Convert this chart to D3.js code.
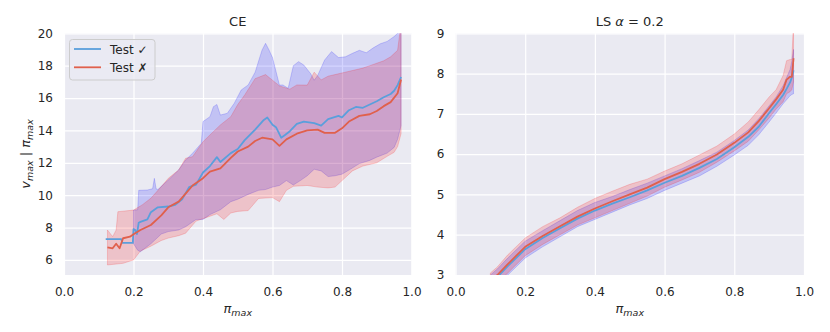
<!DOCTYPE html>
<html>
<head>
<meta charset="utf-8">
<script src="https://cdn.jsdelivr.net/npm/d3@7"></script>
<style>
  body { margin: 0; background: #fff; }
  text { font-family: "DejaVu Sans", sans-serif; fill: #262626; }
</style>
</head>
<body>
<div class="chart"></div>
<script>
// DATA ------------------------------------
// CE panel, Test ✓ (blue)
const ceOkMeanX = [0.12, 0.165, 0.168, 0.198, 0.2, 0.205, 0.21, 0.215, 0.22, 0.24, 0.25, 0.27, 0.3, 0.32, 0.34, 0.36, 0.38, 0.4, 0.42, 0.44, 0.45, 0.48, 0.5, 0.52, 0.55, 0.575, 0.585, 0.6, 0.61, 0.625, 0.635, 0.65, 0.67, 0.69, 0.72, 0.74, 0.76, 0.79, 0.8, 0.82, 0.84, 0.86, 0.88, 0.9, 0.92, 0.94, 0.95, 0.96, 0.97];
const ceOkMean  = [7.28, 7.28, 7.05, 7.05, 7.9, 7.85, 7.6, 8.3, 8.35, 8.5, 8.95, 9.25, 9.3, 9.4, 9.75, 10.5, 10.65, 11.4, 11.8, 12.35, 12.05, 12.6, 12.85, 13.4, 14.05, 14.65, 14.8, 14.35, 14.2, 13.55, 13.7, 13.95, 14.4, 14.55, 14.45, 14.3, 14.7, 14.9, 14.8, 15.25, 15.45, 15.4, 15.6, 15.8, 16.05, 16.25, 16.45, 16.8, 17.3];
const ceOkHighX = [0.2, 0.212, 0.215, 0.24, 0.255, 0.26, 0.265, 0.27, 0.3, 0.33, 0.35, 0.37, 0.395, 0.4, 0.42, 0.43, 0.44, 0.45, 0.47, 0.49, 0.51, 0.53, 0.55, 0.57, 0.58, 0.59, 0.6, 0.62, 0.63, 0.645, 0.66, 0.675, 0.69, 0.71, 0.72, 0.73, 0.75, 0.77, 0.79, 0.81, 0.83, 0.85, 0.87, 0.89, 0.91, 0.93, 0.95, 0.96, 0.97];
const ceOkHigh  = [9.08, 9.1, 10.3, 10.32, 10.4, 11.04, 10.4, 10.35, 10.94, 11.56, 12.18, 12.59, 13.2, 14.55, 14.85, 15.47, 15.6, 14.95, 15.06, 15.68, 16.5, 16.81, 17.6, 18.97, 19.38, 18.97, 18.5, 16.8, 16.81, 16.6, 18.0, 18.25, 18.04, 17.5, 17.1, 17.4, 18.35, 18.87, 18.5, 18.55, 18.76, 18.95, 18.8, 19.1, 19.35, 19.5, 19.8, 20.0, 20.6];
const ceOkLowX  = [0.2, 0.212, 0.22, 0.25, 0.28, 0.3, 0.33, 0.35, 0.38, 0.4, 0.42, 0.45, 0.48, 0.5, 0.53, 0.56, 0.58, 0.6, 0.62, 0.64, 0.66, 0.68, 0.7, 0.72, 0.74, 0.76, 0.78, 0.8, 0.82, 0.85, 0.88, 0.9, 0.93, 0.95, 0.96, 0.97];
const ceOkLow   = [7.0, 6.6, 6.51, 7.0, 7.6, 7.75, 7.85, 8.05, 8.5, 8.5, 8.8, 9.1, 9.6, 9.75, 10.05, 10.3, 10.35, 10.5, 10.6, 10.9, 10.63, 10.9, 11.2, 11.6, 11.5, 11.15, 11.2, 11.3, 11.55, 11.95, 12.15, 12.35, 12.6, 12.95, 13.45, 14.3];

// CE panel, Test ✗ (red)
const ceBadMeanX = [0.125, 0.14, 0.15, 0.16, 0.17, 0.19, 0.2, 0.22, 0.25, 0.28, 0.3, 0.33, 0.35, 0.37, 0.4, 0.42, 0.45, 0.48, 0.5, 0.53, 0.55, 0.57, 0.6, 0.62, 0.64, 0.67, 0.7, 0.73, 0.75, 0.78, 0.8, 0.82, 0.85, 0.88, 0.9, 0.92, 0.94, 0.96, 0.97];
const ceBadMean  = [6.78, 6.72, 7.0, 6.72, 7.34, 7.44, 7.58, 7.85, 8.16, 8.75, 9.25, 9.6, 10.1, 10.6, 11.05, 11.45, 11.65, 12.3, 12.7, 13.0, 13.35, 13.55, 13.45, 13.05, 13.45, 13.8, 14.0, 14.05, 13.85, 13.85, 14.13, 14.55, 14.9, 15.0, 15.2, 15.5, 15.75, 16.3, 17.15];
const ceBadHighX = [0.125, 0.14, 0.15, 0.155, 0.2, 0.225, 0.25, 0.28, 0.3, 0.33, 0.35, 0.37, 0.4, 0.42, 0.45, 0.48, 0.5, 0.52, 0.55, 0.58, 0.6, 0.62, 0.65, 0.67, 0.7, 0.72, 0.74, 0.76, 0.78, 0.8, 0.83, 0.86, 0.88, 0.9, 0.92, 0.94, 0.96, 0.97];
const ceBadHigh  = [7.85, 7.44, 7.85, 8.98, 9.08, 9.4, 9.81, 10.53, 11.04, 11.56, 12.28, 12.38, 13.3, 13.72, 14.34, 14.85, 15.6, 16.19, 17.2, 17.45, 17.1, 16.75, 16.55, 16.81, 16.8, 17.6, 17.12, 17.35, 17.45, 17.55, 17.7, 17.85, 18.0, 18.15, 18.3, 18.55, 18.95, 20.6];
const ceBadLowX  = [0.125, 0.17, 0.2, 0.22, 0.25, 0.28, 0.3, 0.33, 0.35, 0.38, 0.4, 0.44, 0.46, 0.48, 0.5, 0.53, 0.56, 0.6, 0.62, 0.64, 0.66, 0.7, 0.73, 0.76, 0.78, 0.8, 0.83, 0.86, 0.9, 0.93, 0.95, 0.96, 0.97];
const ceBadLow   = [5.69, 5.79, 6.0, 6.55, 6.85, 7.2, 7.35, 7.5, 7.65, 8.4, 8.55, 8.85, 8.5, 8.9, 9.0, 9.05, 9.8, 9.85, 9.6, 10.3, 10.55, 10.6, 10.5, 10.45, 10.5, 10.9, 11.5, 11.8, 12.0, 12.4, 12.65, 13.0, 13.8];

// LS alpha = 0.2 panel (shared x grid)
const lsX       = [0.10, 0.12, 0.15, 0.2, 0.25, 0.3, 0.35, 0.4, 0.45, 0.5, 0.55, 0.6, 0.65, 0.7, 0.75, 0.8, 0.84, 0.87, 0.9, 0.92, 0.94, 0.95, 0.96, 0.965, 0.97];
const lsOkMean  = [2.8, 2.95, 3.22, 3.64, 3.92, 4.16, 4.4, 4.6, 4.77, 4.93, 5.1, 5.29, 5.46, 5.66, 5.88, 6.17, 6.43, 6.68, 7.02, 7.24, 7.47, 7.62, 7.78, 7.9, 8.08];
const lsOkHigh  = [3.0, 3.15, 3.42, 3.84, 4.1, 4.35, 4.6, 4.8, 4.95, 5.12, 5.28, 5.46, 5.64, 5.84, 6.05, 6.34, 6.6, 6.88, 7.2, 7.42, 7.7, 7.9, 8.1, 8.3, 8.6];
const lsOkLow   = [2.6, 2.75, 3.0, 3.42, 3.7, 3.95, 4.2, 4.38, 4.56, 4.74, 4.9, 5.1, 5.28, 5.46, 5.7, 5.98, 6.22, 6.48, 6.8, 7.02, 7.25, 7.35, 7.45, 7.48, 7.5];
const lsBadMean = [2.85, 3.0, 3.27, 3.70, 3.97, 4.21, 4.45, 4.65, 4.83, 5.0, 5.17, 5.38, 5.56, 5.76, 5.99, 6.28, 6.54, 6.82, 7.14, 7.36, 7.6, 7.85, 7.92, 7.92, 8.38];
const lsBadHigh = [3.05, 3.2, 3.5, 3.92, 4.2, 4.42, 4.68, 4.9, 5.08, 5.25, 5.38, 5.58, 5.76, 5.98, 6.2, 6.5, 6.8, 7.1, 7.42, 7.6, 7.95, 8.32, 8.35, 8.35, 9.3];
const lsBadLow  = [2.65, 2.8, 3.05, 3.48, 3.76, 4.0, 4.24, 4.42, 4.6, 4.78, 4.96, 5.18, 5.36, 5.55, 5.8, 6.08, 6.32, 6.6, 6.9, 7.12, 7.3, 7.5, 7.55, 7.6, 7.8];

// tick labels
const xTicks = [0, 0.2, 0.4, 0.6, 0.8, 1.0];
const ceYTicks = [6, 8, 10, 12, 14, 16, 18, 20];
const lsYTicks = [3, 4, 5, 6, 7, 8, 9];
const legendLabels = ["Test \u2713", "Test \u2717"];

// COLOURS ---------------------------------
const okLine = "#5a9fdc", badLine = "#e0604c";
const okFill = "rgb(0,0,255)", badFill = "rgb(255,0,0)";

const zip = (xs, ys) => xs.map((x, i) => [x, ys[i]]);

// CHART INIT ------------------------------
const svg = d3.select(".chart")
  .append("svg")
  .attr("width", 830)
  .attr("height", 332);

function drawPanel(opt) {
  const x = d3.scaleLinear().domain([0, 1]).range([opt.left, opt.right]);
  const y = d3.scaleLinear().domain(opt.yDomain).range([opt.bottom, opt.top]);
  const g = svg.append("g");

  g.append("rect")
    .attr("x", opt.left).attr("y", opt.top)
    .attr("width", opt.right - opt.left).attr("height", opt.bottom - opt.top)
    .attr("fill", "#eaeaf2");

  // grid + tick labels
  const xAxis = g.append("g")
    .attr("transform", `translate(0,${opt.bottom})`)
    .call(d3.axisBottom(x).tickValues(xTicks).tickFormat(d3.format(".1f"))
      .tickSize(-(opt.bottom - opt.top)).tickPadding(12));
  const yAxis = g.append("g")
    .attr("transform", `translate(${opt.left},0)`)
    .call(d3.axisLeft(y).tickValues(opt.yTicks).tickFormat(d3.format("d"))
      .tickSize(-(opt.right - opt.left)).tickPadding(11));
  [xAxis, yAxis].forEach(a => {
    a.select(".domain").remove();
    a.selectAll("line").attr("stroke", "#fff").attr("stroke-width", 1.2);
    a.selectAll("text").attr("font-size", 12).attr("fill", "#262626")
      .attr("font-family", "DejaVu Sans");
  });

  const clipId = "clip" + opt.left;
  g.append("clipPath").attr("id", clipId)
    .append("rect")
    .attr("x", opt.left).attr("y", opt.top)
    .attr("width", opt.right - opt.left).attr("height", opt.bottom - opt.top);
  const plot = g.append("g").attr("clip-path", `url(#${clipId})`);

  const line = d3.line().x(d => x(d[0])).y(d => y(d[1]));

  opt.series.forEach(s => {
    const poly = s.high.concat(s.low.slice().reverse());
    plot.append("path")
      .attr("d", line(poly) + "Z")
      .attr("fill", s.fill).attr("fill-opacity", 0.17)
      .attr("stroke", s.fill).attr("stroke-opacity", 0.22).attr("stroke-width", 0.8);
  });
  opt.series.forEach(s => {
    plot.append("path")
      .attr("d", line(s.mean))
      .attr("fill", "none")
      .attr("stroke", s.color).attr("stroke-width", 1.8)
      .attr("stroke-linejoin", "round");
  });

  // title
  const cx = (opt.left + opt.right) / 2;
  const t = g.append("text").attr("x", cx).attr("y", 25.5)
    .attr("text-anchor", "middle").attr("font-size", 13);
  opt.title(t);

  // x label: pi_max
  const xl = g.append("text").attr("x", cx).attr("y", 313)
    .attr("text-anchor", "middle").attr("font-size", 13);
  xl.append("tspan").attr("font-style", "italic").text("\u03c0");
  xl.append("tspan").attr("font-style", "italic").attr("font-size", 9.5)
    .attr("dy", 3).text("max");

  return {x, y, g};
}

// CE panel
const ce = drawPanel({
  left: 64, right: 411.5, top: 33.3, bottom: 275,
  yDomain: [5.07, 20], yTicks: ceYTicks,
  title: t => t.text("CE"),
  series: [
    {mean: zip(ceOkMeanX, ceOkMean), high: zip(ceOkHighX, ceOkHigh), low: zip(ceOkLowX, ceOkLow), color: okLine, fill: okFill},
    {mean: zip(ceBadMeanX, ceBadMean), high: zip(ceBadHighX, ceBadHigh), low: zip(ceBadLowX, ceBadLow), color: badLine, fill: badFill}
  ]
});

// LS panel
drawPanel({
  left: 455.5, right: 804, top: 33.3, bottom: 275,
  yDomain: [3, 9], yTicks: lsYTicks,
  title: t => {
    t.append("tspan").text("LS ");
    t.append("tspan").attr("font-style", "italic").text("\u03b1");
    t.append("tspan").text(" = 0.2");
  },
  series: [
    {mean: zip(lsX, lsOkMean), high: zip(lsX, lsOkHigh), low: zip(lsX, lsOkLow), color: okLine, fill: okFill},
    {mean: zip(lsX, lsBadMean), high: zip(lsX, lsBadHigh), low: zip(lsX, lsBadLow), color: badLine, fill: badFill}
  ]
});

// y label on CE panel: v_max | pi_max
const yl = svg.append("text")
  .attr("transform", "translate(30,154) rotate(-90)")
  .attr("text-anchor", "middle").attr("font-size", 13);
yl.append("tspan").attr("font-style", "italic").text("v");
yl.append("tspan").attr("font-style", "italic").attr("font-size", 9.5).attr("dy", 3).text("max");
yl.append("tspan").attr("dy", -3).text(" | ");
yl.append("tspan").attr("font-style", "italic").text("\u03c0");
yl.append("tspan").attr("font-style", "italic").attr("font-size", 9.5).attr("dy", 3).text("max");

// legend
const leg = svg.append("g");
leg.append("rect")
  .attr("x", 69.5).attr("y", 39.5).attr("width", 85.5).attr("height", 40.5)
  .attr("rx", 3).attr("fill", "#eaeaf2").attr("fill-opacity", 0.8)
  .attr("stroke", "#cccccc").attr("stroke-width", 1);
[okLine, badLine].forEach((c, i) => {
  const yy = 49 + i * 18.3;
  leg.append("line").attr("x1", 74).attr("x2", 101).attr("y1", yy).attr("y2", yy)
    .attr("stroke", c).attr("stroke-width", 1.8);
  leg.append("text").attr("x", 110).attr("y", yy + 4.5)
    .attr("font-size", 12).text(legendLabels[i]);
});
</script>
</body>
</html>
